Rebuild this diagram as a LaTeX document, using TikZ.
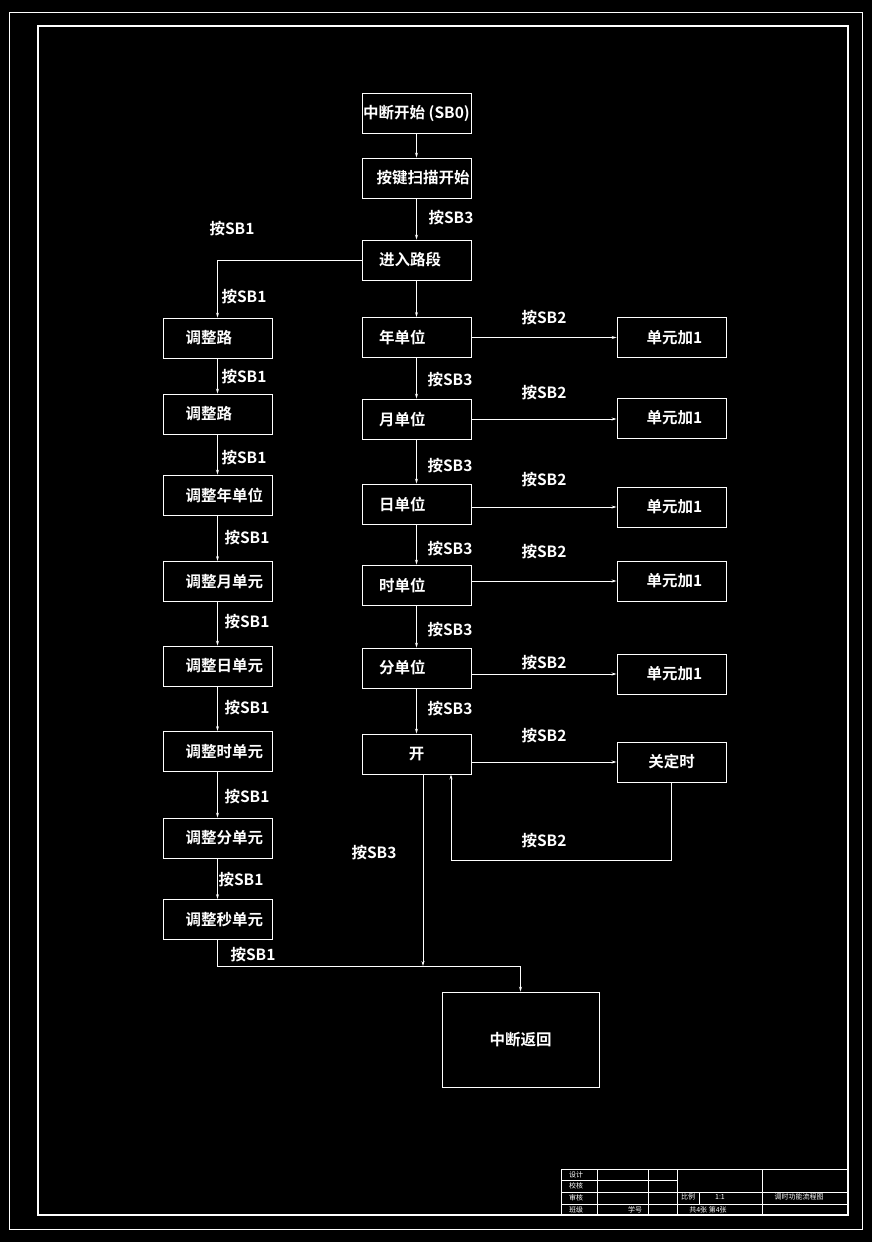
\documentclass[tikz,border=0pt]{standalone}
\usepackage{fontspec}
\newfontfamily\cjk{Noto Sans CJK SC}[BoldFont={Noto Sans CJK SC Bold}]
\usetikzlibrary{arrows.meta}

\begin{document}
\begin{tikzpicture}[x=1pt,y=-1pt,line width=0.9pt,draw=white,
    box/.style={draw=white,minimum width=109pt,minimum height=40pt,inner sep=0pt,
      text=white,font=\cjk\bfseries\fontsize{15.5}{15.5}\selectfont},
    lft/.style={text width=#1,align=left},
    lbl/.style={text=white,inner sep=0pt,font=\cjk\bfseries\fontsize{15.5}{15.5}\selectfont},
    tiny/.style={text=white,inner sep=0pt,font=\cjk\fontsize{7}{7}\selectfont},
    >={Stealth[length=5pt,width=3pt]}]
  % sheet and frames
  \fill[black] (0,0) rectangle (872,1242);
  \draw[line width=0.8pt] (9.5,12.5) rectangle (862,1229);
  \draw[line width=1.2pt] (38,26) rectangle (848,1215);

  % main column
  \node[box] (sb0) at (416.5,113.5) {中断开始 (SB0)};
  \node[box] (scan) at (416.5,178) {\hspace*{13pt}按键扫描开始};
  \node[box,lft=75pt] (entry) at (416.5,260) {进入路段};
  \node[box,lft=75pt] (year) at (416.5,337.5) {年单位};
  \node[box,lft=75pt] (month) at (416.5,419) {月单位};
  \node[box,lft=75pt] (day) at (416.5,504) {日单位};
  \node[box,lft=75pt] (hour) at (416.5,585) {时单位};
  \node[box,lft=75pt] (minute) at (416.5,668) {分单位};
  \node[box] (open) at (416.5,754) {开};

  % right column
  \node[box] (inc1) at (671.5,337.5) {\hspace*{6pt}单元加1};
  \node[box] (inc2) at (671.5,418) {\hspace*{6pt}单元加1};
  \node[box] (inc3) at (671.5,507) {\hspace*{6pt}单元加1};
  \node[box] (inc4) at (671.5,581) {\hspace*{6pt}单元加1};
  \node[box] (inc5) at (671.5,674) {\hspace*{6pt}单元加1};
  \node[box] (off) at (671.5,762) {关定时};

  % left column
  \node[box,lft=80pt] (adj1) at (217.5,338) {\hspace*{8pt}调整路};
  \node[box,lft=80pt] (adj2) at (217.5,414) {\hspace*{8pt}调整路};
  \node[box,lft=80pt] (adj3) at (217.5,495) {\hspace*{8pt}调整年单位};
  \node[box,lft=80pt] (adj4) at (217.5,581.5) {\hspace*{8pt}调整月单元};
  \node[box,lft=80pt] (adj5) at (217.5,666) {\hspace*{8pt}调整日单元};
  \node[box,lft=80pt] (adj6) at (217.5,751.5) {\hspace*{8pt}调整时单元};
  \node[box,lft=80pt] (adj7) at (217.5,838) {\hspace*{8pt}调整分单元};
  \node[box,lft=80pt] (adj8) at (217.5,919.5) {\hspace*{8pt}调整秒单元};

  \node[box,minimum width=157pt,minimum height=95pt] (ret) at (520.5,1039.5) {中断返回};

  \coordinate (join) at (423,966);

  % connectors
  \draw[->] (sb0) -- (scan);
  \draw[->] (scan) -- (entry);
  \draw[->] (entry.west) -| (adj1.north);
  \draw[->] (entry) -- (year);
  \draw[->] (year) -- (month);
  \draw[->] (month) -- (day);
  \draw[->] (day) -- (hour);
  \draw[->] (hour) -- (minute);
  \draw[->] (minute) -- (open);

  \draw[->] (year) -- (inc1);
  \draw[->] (month.east) -- (month.east -| inc2.west);
  \draw[->] (day.east |- inc3) -- (inc3);
  \draw[->] (hour.east |- inc4) -- (inc4);
  \draw[->] (minute.east |- inc5) -- (inc5);
  \draw[->] (open.east |- off) -- (off);
  \draw[->] (off.south) -- ++(0,78) -| ([xshift=34.5pt]open.south);

  \draw[->] (adj1) -- (adj2);
  \draw[->] (adj2) -- (adj3);
  \draw[->] (adj3) -- (adj4);
  \draw[->] (adj4) -- (adj5);
  \draw[->] (adj5) -- (adj6);
  \draw[->] (adj6) -- (adj7);
  \draw[->] (adj7) -- (adj8);

  \draw[->] ([xshift=6.5pt]open.south) -- (join);
  \draw[->] (adj8.south) |- (join) -| (ret.north);

  % key labels
  \node[lbl] (k0) at (451,218) {按SB3};
  \node[lbl] (k1) at (232,229) {按SB1};
  \node[lbl] (k2) at (244,297) {按SB1};
  \node[lbl] (k3) at (450,380) {按SB3};
  \node[lbl] (k4) at (450,466) {按SB3};
  \node[lbl] (k5) at (450,549) {按SB3};
  \node[lbl] (k6) at (450,630) {按SB3};
  \node[lbl] (k7) at (450,709) {按SB3};
  \node[lbl] (k8) at (374,853) {按SB3};
  \node[lbl] (p1) at (544,318) {按SB2};
  \node[lbl] (p2) at (544,393) {按SB2};
  \node[lbl] (p3) at (544,480) {按SB2};
  \node[lbl] (p4) at (544,552) {按SB2};
  \node[lbl] (p5) at (544,663) {按SB2};
  \node[lbl] (p6) at (544,736) {按SB2};
  \node[lbl] (p7) at (544,841) {按SB2};
  \node[lbl] (s1) at (244,377) {按SB1};
  \node[lbl] (s2) at (244,458) {按SB1};
  \node[lbl] (s3) at (247,538) {按SB1};
  \node[lbl] (s4) at (247,622) {按SB1};
  \node[lbl] (s5) at (247,708) {按SB1};
  \node[lbl] (s6) at (247,797) {按SB1};
  \node[lbl] (s7) at (241,880) {按SB1};
  \node[lbl] (s8) at (253,955) {按SB1};

  % title block
  \draw[line width=0.8pt] (561,1169) rectangle (848,1215);
  \draw[line width=0.8pt] (561,1180) -- (677,1180);
  \draw[line width=0.8pt] (561,1192) -- (848,1192);
  \draw[line width=0.8pt] (561,1204) -- (848,1204);
  \foreach \xc in {597,648,677,762}
    \draw[line width=0.8pt] (\xc,1169) -- (\xc,1215);
  \draw[line width=0.8pt] (699,1192) -- (699,1204);
  \node[tiny] (t1) at (576,1174.5) {设计};
  \node[tiny] (t2) at (576,1186) {校核};
  \node[tiny] (t3) at (576,1198) {审核};
  \node[tiny] (t4) at (576,1209.5) {班级};
  \node[tiny] (t5) at (635,1209.5) {学号};
  \node[tiny] (t6) at (688,1197) {比例};
  \node[tiny] (t7) at (720,1197) {1:1};
  \node[tiny] (t8) at (799,1197) {调时功能流程图};
  \node[tiny] (t9) at (708,1209.5) {共4张 第4张};
\end{tikzpicture}
\end{document}
